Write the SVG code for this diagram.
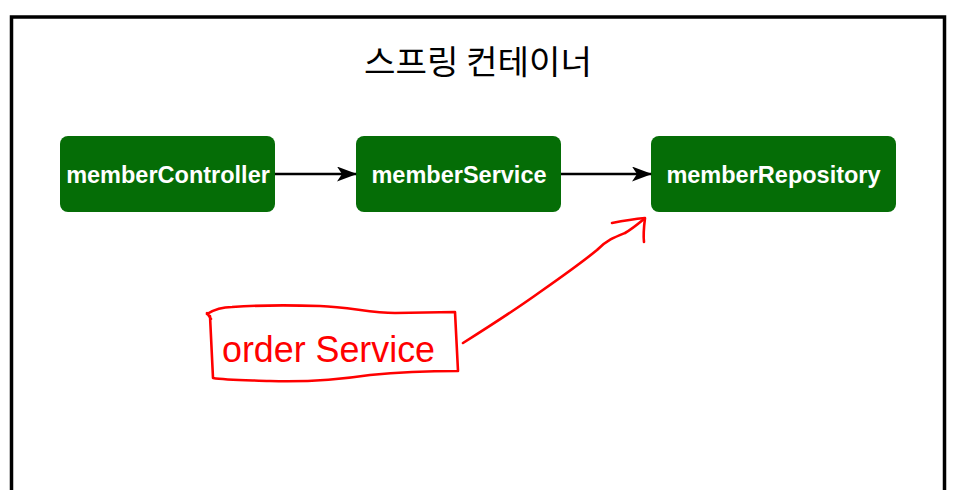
<svg xmlns="http://www.w3.org/2000/svg" width="953" height="490" viewBox="0 0 953 490">
<style>
.node rect{fill:#056d06;}
.node text{fill:#fff;font-family:"Liberation Sans",Arial,sans-serif;font-size:23.5px;font-weight:bold;text-anchor:middle;}
.conn{stroke:#000;stroke-width:2.5;fill:none;}
.red{stroke:#ff0000;stroke-width:2.6;fill:none;stroke-linecap:round;stroke-linejoin:round;}
</style>
<defs>
<marker id="ah" markerWidth="20" markerHeight="15" refX="19" refY="7.5" orient="auto" markerUnits="userSpaceOnUse">
<path d="M0,0 L20,7.5 L0,15 L5,7.5 Z" fill="#000"/>
</marker>
</defs>
<rect width="953" height="490" fill="#fff"/>
<rect x="11.5" y="17" width="933" height="490" fill="none" stroke="#000" stroke-width="3.5"/>
<text x="478" y="74" font-family="'Noto Sans CJK KR',sans-serif" font-size="33" text-anchor="middle" fill="#000" textLength="228" lengthAdjust="spacingAndGlyphs">스프링 컨테이너</text>
<g id="memberController" class="node">
<rect x="60" y="136" width="215" height="76" rx="8"/>
<text x="168" y="183">memberController</text>
</g>
<g id="memberService" class="node">
<rect x="356" y="136" width="205" height="76" rx="8"/>
<text x="459" y="183">memberService</text>
</g>
<g id="memberRepository" class="node">
<rect x="651" y="136" width="245" height="76" rx="8"/>
<text x="773.5" y="183">memberRepository</text>
</g>
<g id="connectors">
<line class="conn" x1="275" y1="174" x2="356" y2="174" marker-end="url(#ah)"/>
<line class="conn" x1="561" y1="174" x2="651" y2="174" marker-end="url(#ah)"/>
</g>
<g id="orderService">
<path class="red" d="M207,313 L211,319 M207,314 C215,309 222,307 232,307 C260,305 290,305 320,306 C350,307 370,313 395,313 L455,312 L458,371 C430,371 400,372 370,375 C330,381 300,382 270,381 C240,380 225,380 213,378 L210,316"/>
<text x="222" y="362" font-family="'Liberation Sans',Arial,sans-serif" font-size="36" fill="#ff0000" textLength="213" lengthAdjust="spacingAndGlyphs">order Service</text>
</g>
<g id="redArrow">
<path class="red" d="M463,343 C490,326 515,310 540,292 C560,278 580,264 597,250 C607,240 615,237 625,233 C632,229 638,224 644,219"/>
<path class="red" d="M612,223 C622,221 634,219 645,218 C644,226 643,234 644,242"/>
</g>
</svg>
